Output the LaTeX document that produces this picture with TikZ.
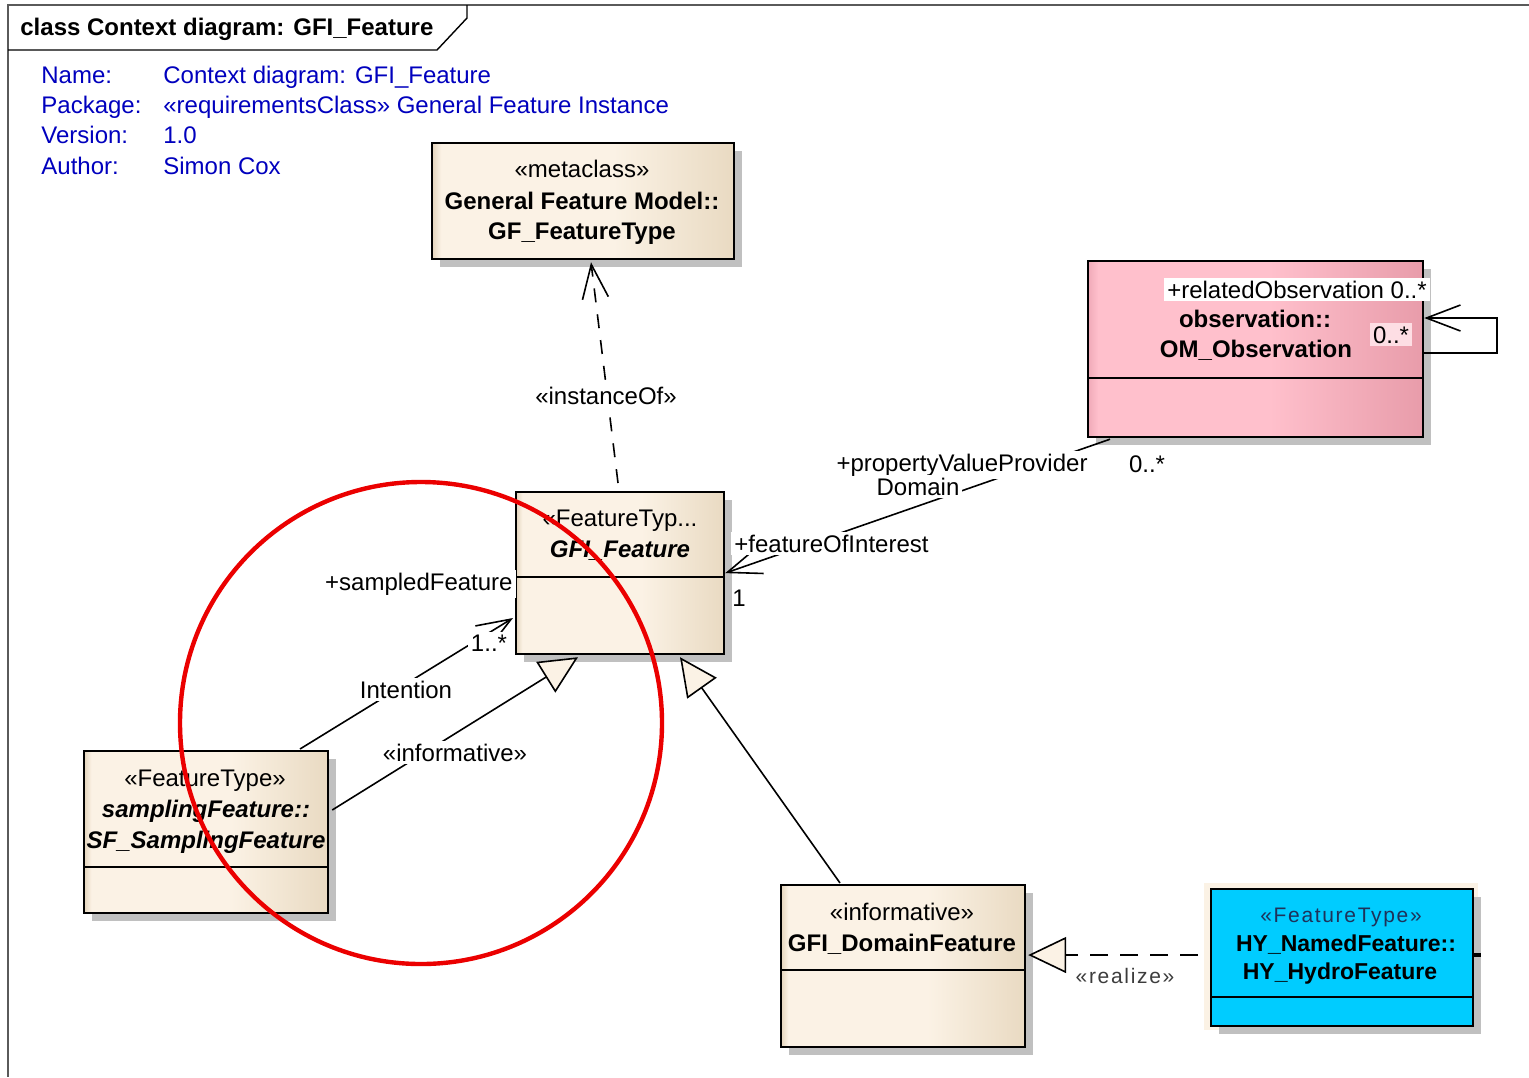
\documentclass[tikz,border=0pt]{standalone}
\usepackage{fontspec}
\setmainfont{Liberation Sans}
\newfontfamily\spacedfont[LetterSpace=8]{Liberation Sans}
\usetikzlibrary{arrows.meta,shadows,calc}

\definecolor{framegray}{RGB}{90,90,90}
\definecolor{infoblue}{RGB}{0,0,190}
\definecolor{shadowgray}{RGB}{192,192,192}
\definecolor{beigeL}{RGB}{228,212,188}
\definecolor{beigeM}{RGB}{251,242,229}
\definecolor{beigeR}{RGB}{233,218,194}
\definecolor{pinkL}{RGB}{240,170,184}
\definecolor{pinkM}{RGB}{255,192,204}
\definecolor{pinkR}{RGB}{232,156,170}
\definecolor{pinklight}{RGB}{253,222,228}
\definecolor{hycyan}{RGB}{0,204,255}
\definecolor{hytext}{RGB}{30,50,90}
\definecolor{markred}{RGB}{235,0,0}
\definecolor{trifill}{RGB}{251,242,229}
\definecolor{realizegray}{RGB}{60,60,60}

\pgfdeclarehorizontalshading{beigeshade}{100bp}{color(0bp)=(beigeL); color(25bp)=(beigeL); color(26.5bp)=(beigeM); color(55bp)=(beigeM); color(75bp)=(beigeR); color(100bp)=(beigeR)}
\pgfdeclarehorizontalshading{pinkshade}{100bp}{color(0bp)=(pinkL); color(25bp)=(pinkL); color(26.5bp)=(pinkM); color(52bp)=(pinkM); color(75bp)=(pinkR); color(100bp)=(pinkR)}

\tikzset{
  umlbox/.style={draw=black, line width=1.1pt, inner sep=0pt, anchor=north west,
    general shadow={fill=shadowgray, shadow xshift=4pt, shadow yshift=-4pt}},
  beigebox/.style={umlbox, shade, shading=beigeshade},
  pinkbox/.style={umlbox, shade, shading=pinkshade},
  cyanbox/.style={umlbox, fill=hycyan},
  txt/.style={anchor=base, inner sep=0pt},
  lbl/.style={anchor=base, inner sep=1.5pt, fill=white},
  info/.style={anchor=base west, inner sep=0pt, text=infoblue},
  compart/.style={line width=1.1pt},
  assoc/.style={line width=0.8pt, -{Straight Barb[length=17pt,width=13pt]}},
  depend/.style={assoc, dash pattern=on 7pt off 6pt},
  generalize/.style={line width=0.8pt, -{Triangle[length=19pt,width=18pt,fill=trifill]}},
  realizes/.style={generalize, dash pattern=on 9pt off 6pt}
}

\begin{document}
\begin{tikzpicture}[x=0.5pt, y=-0.5pt, font=\fontsize{12pt}{14pt}\selectfont]
\useasboundingbox (0,0) rectangle (1529,1077);
\fill[white] (0,0) rectangle (1529,1077);

% diagram frame and name tab
\draw[framegray, line width=1pt] (1529,5) -- (8,5) -- (8,1077);
\draw[line width=0.7pt] (8,50) -- (437,50) -- (467,18) -- (467,5);
\node[anchor=base west, inner sep=0pt, font=\fontsize{12pt}{14pt}\selectfont\bfseries] (title) at (20,35) {class Context diagram: GFI\_Feature};

% diagram properties
\node[info] (kname) at (41,83) {Name:};
\node[info] (vname) at (163,83) {Context diagram: GFI\_Feature};
\node[info] (kpack) at (41,113) {Package:};
\node[info] (vpack) at (163,113) {«requirementsClass» General Feature Instance};
\node[info] (kver) at (41,143) {Version:};
\node[info] (vver) at (163,143) {1.0};
\node[info] (kauth) at (41,174) {Author:};
\node[info] (vauth) at (163,174) {Simon Cox};

% classes
\node[beigebox, minimum width=151pt, minimum height=58pt] (gft) at (431,142) {};
\node[beigebox, minimum width=104pt, minimum height=81pt] (gfi) at (515,491) {};
\node[pinkbox, minimum width=167.5pt, minimum height=88pt] (om) at (1087,260) {};
\node[beigebox, minimum width=122pt, minimum height=81pt] (sf) at (83,750) {};
\node[beigebox, minimum width=122pt, minimum height=81pt] (dom) at (780,884) {};
\fill[beigeM] (1204,883) rectangle (1478,1030);
\node[cyanbox, minimum width=131pt, minimum height=68.5pt] (hy) at (1210,888) {};

% attribute compartments
\draw[compart] ($(gfi.north west)+(0,86)$) -- ($(gfi.north east)+(0,86)$);
\draw[compart] ($(om.north west)+(0,118)$) -- ($(om.north east)+(0,118)$);
\draw[compart] ($(sf.north west)+(0,117)$) -- ($(sf.north east)+(0,117)$);
\draw[compart] ($(dom.north west)+(0,86)$) -- ($(dom.north east)+(0,86)$);
\draw[compart] ($(hy.north west)+(0,109)$) -- ($(hy.north east)+(0,109)$);

% class names
\node[txt] (gftst) at (582,177) {«metaclass»};
\node[txt, font=\fontsize{12pt}{14pt}\selectfont\bfseries] (gftn1) at (582,209) {General Feature Model::};
\node[txt, font=\fontsize{12pt}{14pt}\selectfont\bfseries] (gftn2) at (582,239) {GF\_FeatureType};

\node[txt] (gfist) at (620,526) {«FeatureTyp...};
\node[txt, font=\fontsize{12pt}{14pt}\selectfont\bfseries\itshape] (gfin) at (620,557) {GFI\_Feature};

\node[txt, font=\fontsize{12pt}{14pt}\selectfont\bfseries] (omn1) at (1255,327) {observation::};
\node[txt, font=\fontsize{12pt}{14pt}\selectfont\bfseries] (omn2) at (1256,357) {OM\_Observation};

\node[txt] (sfst) at (205,786) {«FeatureType»};
\node[txt, font=\fontsize{12pt}{14pt}\selectfont\bfseries\itshape] (sfn1) at (206,817) {samplingFeature::};
\node[txt, font=\fontsize{12pt}{14pt}\selectfont\bfseries\itshape] (sfn2) at (206,848) {SF\_SamplingFeature};

\node[txt] (domst) at (902,920) {«informative»};
\node[txt, font=\fontsize{12pt}{14pt}\selectfont\bfseries] (domn) at (902,951) {GFI\_DomainFeature};

\node[txt, text=hytext, font=\fontsize{10.5pt}{13pt}\spacedfont] (hyst) at (1341,922) {«FeatureType»};
\node[txt, font=\fontsize{11.5pt}{14pt}\selectfont\bfseries] (hyn1) at (1346,951) {HY\_NamedFeature::};
\node[txt, font=\fontsize{11.5pt}{14pt}\selectfont\bfseries] (hyn2) at (1340,979) {HY\_HydroFeature};
\draw[line width=1.6pt] ($(hy.north east)+(0,67)$) -- ($(hy.north east)+(7,67)$);

% relationships
\draw[depend] ($(gfi.north west)+(103,-8)$) -- ($(gft.south west)+(160,2)$);
\draw[assoc] ($(om.south west)+(23,1)$) -- (gfi.east);
\draw[assoc] ($(om.north east)+(0,93)$) -| ($(om.north east)+(73,58)$) -- ($(om.north east)+(0,58)$);
\draw[assoc] ($(sf.north west)+(217,-1)$) -- ($(gfi.north west)+(-2,127)$);
\draw[generalize] ($(sf.north east)+(3,60)$) -- ($(gfi.south west)+(63,2)$);
\draw[generalize] ($(dom.north west)+(60,-1)$) -- ($(gfi.south west)+(165,2)$);
\draw[realizes] ($(hy.north west)+(-12,67)$) -- ($(dom.north east)+(2,71)$);

% relationship labels
\node[lbl] (linst) at (606,404) {«instanceOf»};
\node[lbl] (lpvp) at (962,471) {+propertyValueProvider};
\node[lbl] (ldom) at (918,495) {Domain};
\node[txt] (lmany1) at (1147,472) {0..*};
\node[lbl, anchor=base west] (lfoi) at (731,552) {+featureOfInterest};
\node[txt] (lone) at (739,606) {1};
\node[lbl] (lrel) at (1297,298) {+relatedObservation 0..*};
\node[lbl, fill=pinklight] (lmany2) at (1391,343) {0..*};
\node[lbl, anchor=base east] (lsamp) at (516,590) {+sampledFeature};
\node[lbl] (lmany3) at (489,651) {1..*};
\node[lbl] (lint) at (406,698) {Intention};
\node[lbl] (linf) at (455,761) {«informative»};
\node[txt, text=realizegray, font=\fontsize{10.5pt}{13pt}\spacedfont] (lreal) at (1125,983) {«realize»};

% highlight ring
\draw[markred, line width=2.2pt] (421,723) circle[radius=241];
\end{tikzpicture}
\end{document}
